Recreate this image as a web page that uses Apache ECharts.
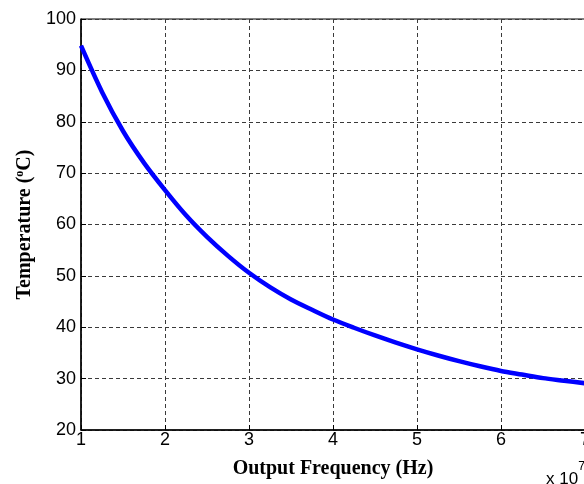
<!DOCTYPE html>
<html>
<head>
<meta charset="utf-8">
<script src="https://cdn.jsdelivr.net/npm/echarts@6/dist/echarts.min.js"></script>
<style>html,body{margin:0;padding:0;background:#fff}#c{width:584px;height:484px}</style>
</head>
<body>
<div id="c"></div>
<script>
// Output frequency in units of 1e7 Hz
var freq = [1, 1.25, 1.5, 1.75, 2, 2.25, 2.5, 2.75, 3, 3.25, 3.5, 3.75, 4, 4.25, 4.5, 4.75, 5, 5.25, 5.5, 5.75, 6, 6.25, 6.5, 6.75, 7];
// Temperature in deg C
var temp = [94.8, 85.8, 78.2, 72.0, 66.7, 61.8, 57.6, 53.9, 50.6, 47.8, 45.4, 43.4, 41.5, 39.9, 38.4, 37.0, 35.7, 34.5, 33.4, 32.4, 31.5, 30.8, 30.1, 29.6, 29.1];
var xTicks = [1, 2, 3, 4, 5, 6, 7];
var yTicks = [20, 30, 40, 50, 60, 70, 80, 90, 100];

var chart = echarts.init(document.getElementById('c'), null, {renderer: 'canvas'});
var pts = freq.map(function (f, i) { return [f, temp[i]]; });
var gridLine = {show: true, lineStyle: {color: '#3a3a3a', type: [4, 3], width: 1}};
chart.setOption({
  animation: false,
  backgroundColor: '#fff',
  grid: {left: 81, top: 19, width: 504, height: 411, show: true, borderColor: '#000', borderWidth: 1, containLabel: false, outerBoundsMode: 'none'},
  xAxis: {
    type: 'value', min: xTicks[0], max: xTicks[xTicks.length - 1], interval: 1,
    axisLine: {show: true, onZero: false, lineStyle: {color: '#000', width: 1.5}},
    axisTick: {show: true, inside: true, length: 5, lineStyle: {color: '#000'}},
    axisLabel: {color: '#000', fontFamily: 'Liberation Sans, Arial', fontSize: 18, margin: 1, hideOverlap: false},
    splitLine: gridLine,
    name: 'Output Frequency (Hz)', nameLocation: 'middle', nameGap: 29,
    nameTextStyle: {color: '#000', fontFamily: 'Liberation Serif, Times New Roman', fontWeight: 'bold', fontSize: 20}
  },
  yAxis: {
    type: 'value', min: yTicks[0], max: yTicks[yTicks.length - 1], interval: 10,
    axisLine: {show: true, onZero: false, lineStyle: {color: '#000', width: 1.5}},
    axisTick: {show: true, inside: true, length: 5, lineStyle: {color: '#000'}},
    axisLabel: {color: '#000', fontFamily: 'Liberation Sans, Arial', fontSize: 18, margin: 5},
    splitLine: gridLine,
    name: '{t|Temperature (}{s|o}{t|C)}', nameLocation: 'middle', nameGap: 45,
    nameTextStyle: {
      color: '#000',
      rich: {
        t: {fontFamily: 'Liberation Serif, Times New Roman', fontWeight: 'bold', fontSize: 20, color: '#000'},
        s: {fontFamily: 'Liberation Serif, Times New Roman', fontWeight: 'bold', fontSize: 12, color: '#000', verticalAlign: 'top', padding: [0, 0, 10, 0]}
      }
    }
  },
  graphic: [{
    type: 'text', left: 546, top: 461,
    style: {
      text: '{a|x 10}{b|7}',
      rich: {
        a: {fontFamily: 'Liberation Sans, Arial', fontSize: 17, fill: '#000', padding: [10, 0, 0, 0]},
        b: {fontFamily: 'Liberation Sans, Arial', fontSize: 12, fill: '#000', verticalAlign: 'top'}
      }
    }
  }],
  series: [{
    type: 'line', data: pts, smooth: 0.3, showSymbol: false,
    lineStyle: {color: '#0000ff', width: 4.5}, clip: true
  }]
});
</script>
</body>
</html>
